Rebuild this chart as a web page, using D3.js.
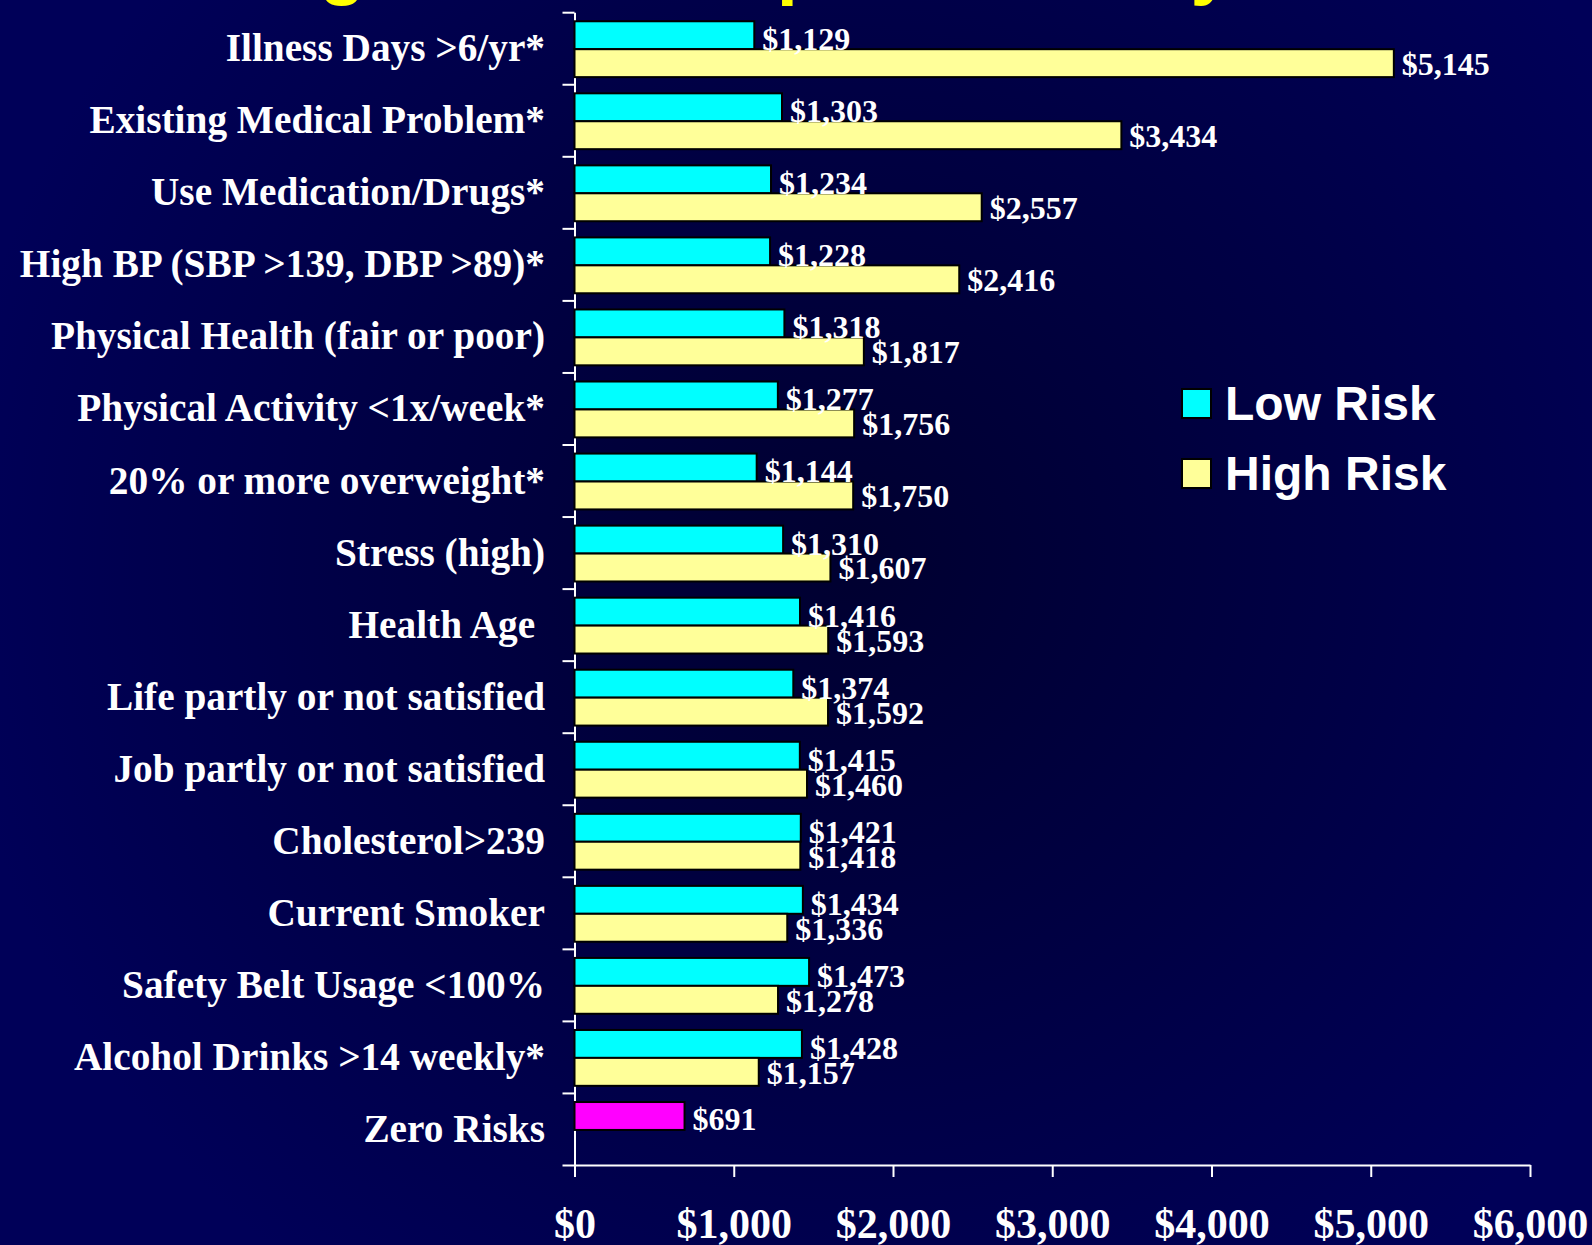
<!DOCTYPE html>
<html>
<head>
<meta charset="utf-8">
<script src="https://cdn.jsdelivr.net/npm/d3@7"></script>
<style>
  html, body { margin: 0; padding: 0; background: #000050; }
  svg { display: block; }
</style>
</head>
<body>
<script>
// chart values
let categories = [
    'Illness Days >6/yr*',
    'Existing Medical Problem*',
    'Use Medication/Drugs*',
    'High BP (SBP >139, DBP >89)*',
    'Physical Health (fair or poor)',
    'Physical Activity <1x/week*',
    '20% or more overweight*',
    'Stress (high)',
    'Health Age ',
    'Life partly or not satisfied',
    'Job partly or not satisfied',
    'Cholesterol>239',
    'Current Smoker',
    'Safety Belt Usage <100%',
    'Alcohol Drinks >14 weekly*',
    'Zero Risks'
]

let lowRisk = [1129, 1303, 1234, 1228, 1318, 1277, 1144, 1310, 1416, 1374, 1415, 1421, 1434, 1473, 1428]
let highRisk = [5145, 3434, 2557, 2416, 1817, 1756, 1750, 1607, 1593, 1592, 1460, 1418, 1336, 1278, 1157]
let zeroRisk = [691]

let tickValues = [0, 1000, 2000, 3000, 4000, 5000, 6000]
let tickLabels = ['$0', '$1,000', '$2,000', '$3,000', '$4,000', '$5,000', '$6,000']

let seriesNames = ['Low Risk', 'High Risk']
let titleText = 'Avg. Annual Expenditure by Risk'

SVG_WIDTH = 1592
SVG_HEIGHT = 1245
LOW_COLOR = '#00ffff'
HIGH_COLOR = '#ffff99'
ZERO_COLOR = '#ff00ff'
SERIF = '"Liberation Serif", "Times New Roman", serif'
SANS = '"Liberation Sans", Arial, sans-serif'

let fmt = (v) => '$' + d3.format(',')(v)

let svg = d3.select('body').append('svg')
            .attr('width', SVG_WIDTH)
            .attr('height', SVG_HEIGHT)

// background with the darker middle
let defs = svg.append('defs')
let grad = defs.append('radialGradient')
                .attr('id', 'bg')
                .attr('gradientUnits', 'userSpaceOnUse')
                .attr('cx', 850).attr('cy', 560).attr('r', 900)
grad.append('stop').attr('offset', '0%').attr('stop-color', '#000030')
grad.append('stop').attr('offset', '55%').attr('stop-color', '#000045')
grad.append('stop').attr('offset', '100%').attr('stop-color', '#000058')

svg.append('rect')
    .attr('width', SVG_WIDTH)
    .attr('height', SVG_HEIGHT)
    .attr('fill', 'url(#bg)')

// title, mostly off the top of the picture
svg.append('text')
    .attr('x', 225)
    .attr('y', -10)
    .attr('fill', '#ffff00')
    .style('font-family', SANS)
    .style('font-weight', 'bold')
    .style('font-size', '76px')
    .text(titleText)

let x = d3.scaleLinear()
            .domain([0, 6000])
            .range([574.5, 1530])

let y = d3.scaleBand()
            .domain(categories)
            .range([12.2, 1165])

let ySub = d3.scaleBand()
            .domain(seriesNames)
            .range([0, y.bandwidth()])
            .paddingOuter(0.29)
            .align(0.56)

// y axis, ticks sit between categories
let yEdges = d3.scaleLinear()
                .domain([0, categories.length])
                .range([12.2, 1165])

let yAxis = svg.append('g')
                .attr('transform', `translate(${x(0)},0)`)
                .call(d3.axisLeft(yEdges).ticks(categories.length).tickFormat('').tickSize(12).tickSizeOuter(0))
yAxis.selectAll('line, path').attr('stroke', '#ffffff').attr('stroke-width', 2)

let xAxis = svg.append('g')
                .attr('transform', `translate(0,1165)`)
                .call(d3.axisBottom(x).tickValues(tickValues).tickFormat((d, i) => tickLabels[i]).tickSize(12).tickSizeOuter(0))
xAxis.selectAll('line, path').attr('stroke', '#ffffff').attr('stroke-width', 2)
xAxis.selectAll('text')
    .attr('y', 73)
    .attr('dy', 0)
    .attr('fill', '#ffffff')
    .style('font-family', SERIF)
    .style('font-weight', 'bold')
    .style('font-size', '42px')

// category labels
svg.selectAll('.cat-label')
    .data(categories)
    .join('text')
    .classed('cat-label', true)
    .attr('x', 545)
    .attr('y', (d) => y(d) + y.bandwidth() / 2 + 13)
    .attr('text-anchor', 'end')
    .attr('fill', '#ffffff')
    .style('white-space', 'pre')
    .style('font-family', SERIF)
    .style('font-weight', 'bold')
    .style('font-size', '39.3px')
    .text((d) => d)

// bars
let rows = []
lowRisk.forEach((v, i) => rows.push({cat: categories[i], series: 'Low Risk', value: v, color: LOW_COLOR, lift: -1}))
highRisk.forEach((v, i) => rows.push({cat: categories[i], series: 'High Risk', value: v, color: HIGH_COLOR, lift: 2}))
zeroRisk.forEach((v) => rows.push({cat: categories[categories.length - 1], series: 'Low Risk', value: v, color: ZERO_COLOR, lift: 0}))

svg.selectAll('.bar')
    .data(rows)
    .join('rect')
    .classed('bar', true)
    .attr('x', x(0))
    .attr('y', (d) => y(d.cat) + ySub(d.series))
    .attr('width', (d) => x(d.value) - x(0))
    .attr('height', ySub.bandwidth())
    .attr('fill', (d) => d.color)
    .attr('stroke', '#000000')
    .attr('stroke-width', 2)

svg.selectAll('.val-label')
    .data(rows)
    .join('text')
    .classed('val-label', true)
    .attr('x', (d) => x(d.value) + 8)
    .attr('y', (d) => y(d.cat) + ySub(d.series) + ySub.bandwidth() - d.lift)
    .attr('fill', '#ffffff')
    .style('font-family', SERIF)
    .style('font-weight', 'bold')
    .style('font-size', '32px')
    .text((d) => fmt(d.value))

// legend
let legend = svg.selectAll('.legend')
    .data(seriesNames)
    .join('g')
    .classed('legend', true)
    .attr('transform', (d, i) => `translate(1182,${389 + i * 70})`)

legend.append('rect')
    .attr('width', 29)
    .attr('height', 29)
    .attr('fill', (d, i) => [LOW_COLOR, HIGH_COLOR][i])
    .attr('stroke', '#000000')
    .attr('stroke-width', 2)

legend.append('text')
    .attr('x', 43)
    .attr('y', 31)
    .attr('fill', '#ffffff')
    .style('font-family', SANS)
    .style('font-weight', 'bold')
    .style('font-size', '48px')
    .text((d) => d)
</script>
</body>
</html>
